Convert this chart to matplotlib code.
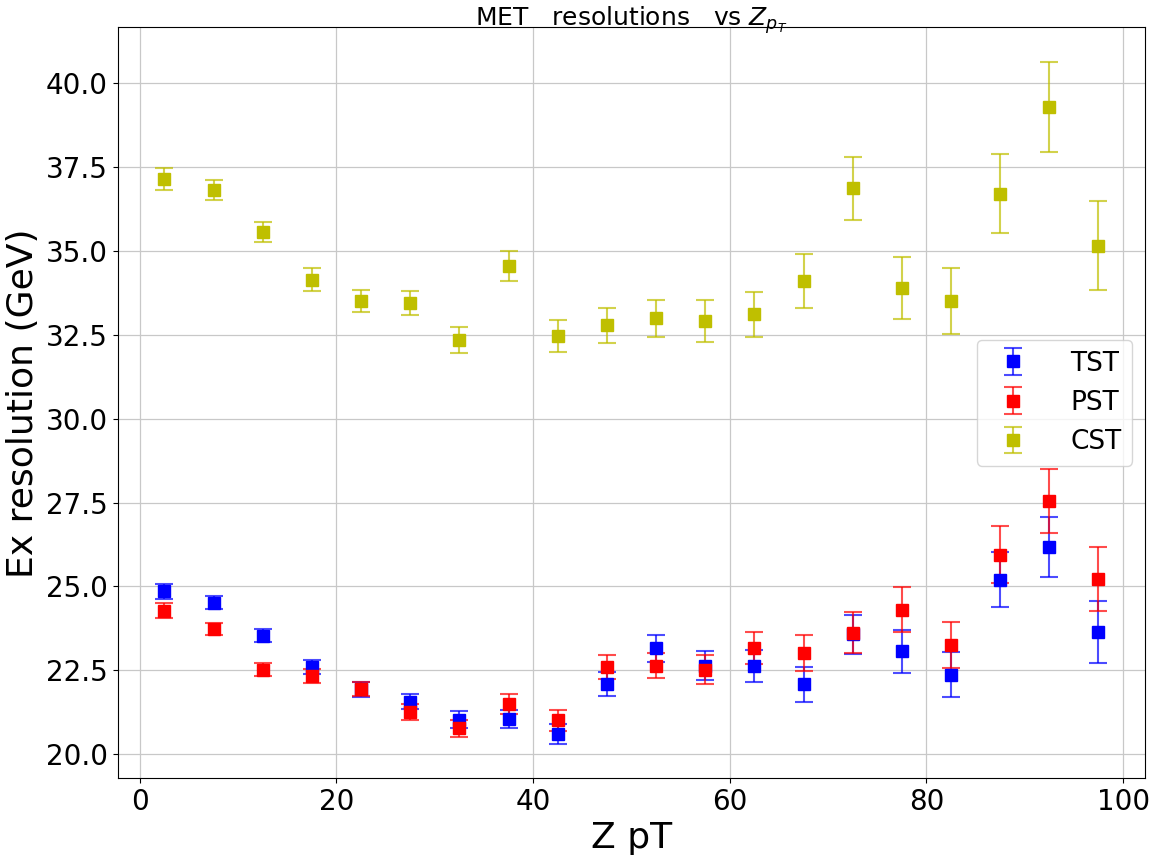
import numpy as np
import matplotlib
matplotlib.use('Agg')
import matplotlib.pyplot as plt

zpt = [2.5, 7.5, 12.5, 17.5, 22.5, 27.5, 32.5, 37.5, 42.5, 47.5,
       52.5, 57.5, 62.5, 67.5, 72.5, 77.5, 82.5, 87.5, 92.5, 97.5]

tst = [24.85, 24.52, 23.53, 22.59, 21.93, 21.56, 21.03, 21.04, 20.60, 22.09,
       23.16, 22.64, 22.63, 22.08, 23.57, 23.06, 22.36, 25.20, 26.17, 23.64]
tst_err = [0.22, 0.20, 0.20, 0.21, 0.22, 0.23, 0.25, 0.27, 0.30, 0.36,
           0.40, 0.42, 0.48, 0.52, 0.59, 0.63, 0.67, 0.82, 0.90, 0.91]

pst = [24.28, 23.73, 22.52, 22.33, 21.94, 21.25, 20.77, 21.49, 21.01, 22.60,
       22.64, 22.52, 23.16, 23.02, 23.62, 24.31, 23.26, 25.95, 27.54, 25.22]
pst_err = [0.22, 0.18, 0.19, 0.20, 0.22, 0.23, 0.25, 0.29, 0.31, 0.36,
           0.38, 0.43, 0.48, 0.53, 0.61, 0.66, 0.69, 0.84, 0.96, 0.96]

cst = [37.14, 36.82, 35.56, 34.15, 33.51, 33.44, 32.34, 34.56, 32.47, 32.78,
       32.99, 32.92, 33.11, 34.10, 36.87, 33.90, 33.51, 36.71, 39.30, 35.16]
cst_err = [0.33, 0.29, 0.30, 0.33, 0.34, 0.36, 0.38, 0.44, 0.47, 0.52,
           0.55, 0.62, 0.68, 0.80, 0.93, 0.92, 0.99, 1.17, 1.35, 1.33]

fig = plt.figure(figsize=(11.65, 8.57), dpi=100)
ax = fig.add_axes([0.101, 0.092, 0.882, 0.876])

series = [(tst, tst_err, 'TST', (0, 0, 1)),
          (pst, pst_err, 'PST', (1, 0, 0)),
          (cst, cst_err, 'CST', (0.75, 0.75, 0))]
for vals, errs, name, col in series:
    ax.errorbar(zpt, vals, yerr=errs, fmt='s', color=col, ms=8.5,
                ecolor=col + (0.7,), elinewidth=1.5, capsize=6.5,
                capthick=1.5, label=name)

ax.grid(True, color='#c8c8c8', linewidth=0.9)
ax.set_axisbelow(True)
ax.tick_params(labelsize=20)
ax.set_xlabel('Z pT', fontsize=26)
ax.set_ylabel('Ex resolution (GeV)', fontsize=26)
ax.set_title(r'MET   resolutions   vs $Z_{p_T}$', fontsize=18, y=1.0, pad=1)
ax.legend(loc='center right', fontsize=19, handletextpad=1.15)

fig.savefig('out.png', dpi=100)
